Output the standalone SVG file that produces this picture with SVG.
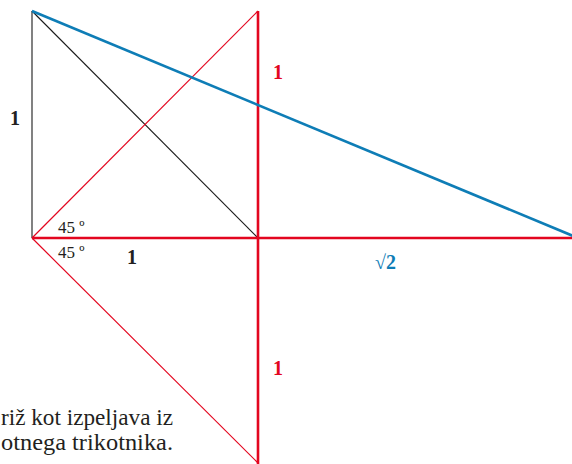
<svg xmlns="http://www.w3.org/2000/svg" width="572" height="464" viewBox="0 0 572 464">
<style>
.bg{fill:#ffffff}
.red{stroke:#e3061f;fill:none}
.thick{stroke-width:2.6}
.thin{stroke-width:1.2}
.blue{stroke:#0e7db6;stroke-width:2.6;fill:none}
.blk{stroke:#1a1a1a;stroke-width:1.1;fill:none}
.lbl{font-size:20px;font-weight:bold}
.ang{font-size:17px;fill:#231f20}
.cap{font-size:23px;fill:#231f20}
</style>
<rect class="bg" x="0" y="0" width="572" height="464"/>
<g id="connectors">
<line class="blk" x1="32" y1="11" x2="32" y2="238"/>
<line class="blk" x1="32" y1="11" x2="258" y2="238"/>
<line class="red thin" x1="32" y1="238" x2="258" y2="11"/>
<line class="red thin" x1="32" y1="238" x2="258" y2="463"/>
<line class="red thick" x1="32" y1="238" x2="578" y2="238"/>
<line class="red thick" x1="258" y1="11" x2="258" y2="464"/>
<line class="blue" x1="32" y1="11" x2="578" y2="238"/>
</g>
<g id="labels" font-family="'Liberation Serif', 'DejaVu Serif', 'Times New Roman', serif">
<text class="lbl" x="10" y="125" fill="#231f20">1</text>
<text class="lbl" x="127" y="264" fill="#231f20">1</text>
<text class="lbl" x="273" y="79" fill="#e3061f">1</text>
<text class="lbl" x="273" y="375" fill="#e3061f">1</text>
<text class="lbl" x="375" y="269" fill="#0e7db6">√2</text>
<text class="ang" x="58" y="233">45 º</text>
<text class="ang" x="58" y="258">45 º</text>
</g>
<g id="caption" font-family="'Liberation Serif', 'DejaVu Serif', 'Times New Roman', serif">
<text class="cap" x="1" y="425" textLength="172" lengthAdjust="spacingAndGlyphs">riž kot izpeljava iz</text>
<text class="cap" x="1" y="450" textLength="172" lengthAdjust="spacingAndGlyphs">otnega trikotnika.</text>
</g>
</svg>
